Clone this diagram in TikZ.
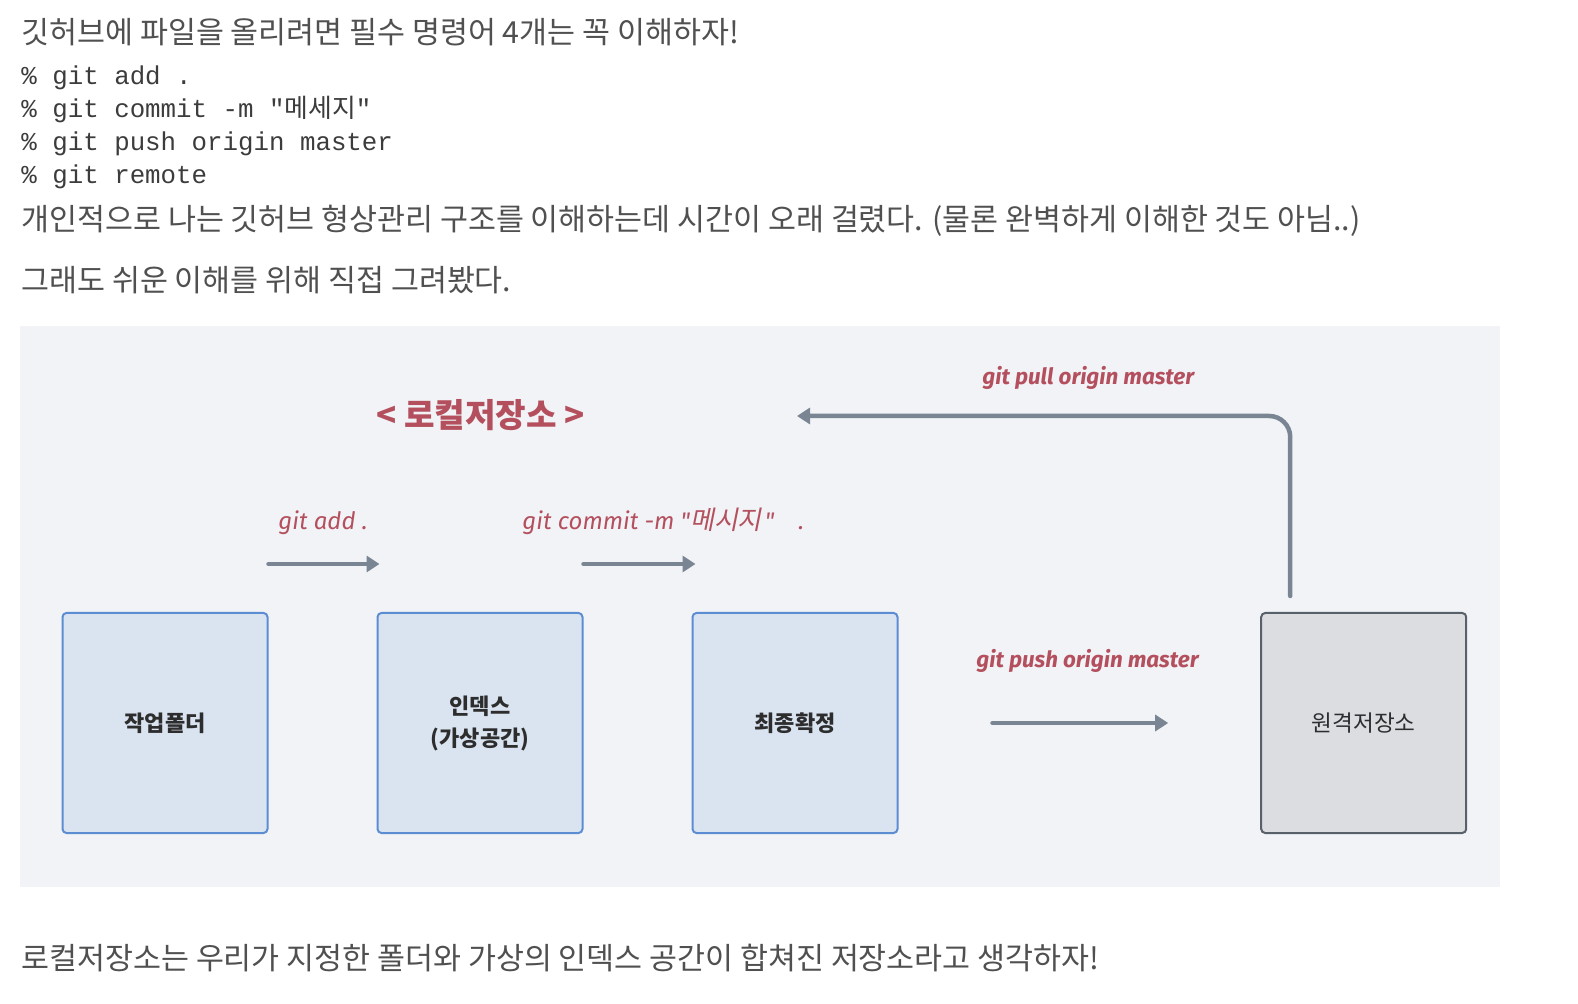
\documentclass[tikz,border=0pt]{standalone}
\usepackage{fontspec}
\usetikzlibrary{arrows.meta,calc,positioning}
\setmainfont{Noto Sans CJK KR}
\newfontfamily\codefont{Liberation Mono}
\newfontfamily\krfont{Noto Sans CJK KR}
\newfontfamily\krslant[FakeSlant=0.2]{Noto Sans CJK KR}
\newfontfamily\cmdfont{Fira Sans}
\definecolor{panel}{RGB}{241,243,247}
\definecolor{stagefill}{RGB}{218,228,241}
\definecolor{stageline}{RGB}{92,141,211}
\definecolor{remotefill}{RGB}{220,221,225}
\definecolor{remoteline}{RGB}{88,96,106}
\definecolor{flowgray}{RGB}{122,133,147}
\definecolor{cmdred}{RGB}{180,80,94}
\definecolor{paragray}{RGB}{80,80,80}
\definecolor{codegray}{RGB}{60,60,60}
\definecolor{boxtext}{RGB}{45,45,45}

\begin{document}
\begin{tikzpicture}[x=0.5pt,y=-0.5pt,>={Triangle[length=6.5pt,width=8pt]},node distance=54pt,
 stage/.style={draw=stageline,fill=stagefill,line width=1pt,rounded corners=2pt,minimum width=102.5pt,minimum height=110pt,align=center,text=boxtext,font=\bfseries\fontsize{11}{16}\selectfont},
 remote/.style={stage,draw=remoteline,fill=remotefill,font=\fontsize{11.3}{16}\selectfont},
 flow/.style={->,line width=2.25pt,draw=flowgray,line cap=round},
 cmd/.style={anchor=base west,inner sep=0pt,text=cmdred,font=\cmdfont\itshape\fontsize{12}{14}\selectfont},
 cmdbold/.style={cmd,font=\cmdfont\bfseries\itshape\fontsize{11.2}{14}\selectfont},
 para/.style={anchor=base west,inner sep=0pt,text=paragray,font=\fontsize{15.2}{18}\selectfont},
 code/.style={para,text=codegray,font=\codefont\fontsize{12.9}{15}\selectfont}]
\useasboundingbox (0,0) rectangle (1578,1004);
\fill[white] (0,0) rectangle (1578,1004);
% text above the figure
\node[para] (intro) at (21,44) {깃허브에 파일을 올리려면 필수 명령어 4개는 꼭 이해하자!};
\node[code] (cadd) at (21,85) {\% git add .};
\node[code] (ccommit) at (21,118) {\% git commit -m "{\krfont 메세지}"};
\node[code] (cpush) at (21,151) {\% git push origin master};
\node[code] (cremote) at (21,184) {\% git remote};
\node[para] (note) at (21,231) {개인적으로 나는 깃허브 형상관리 구조를 이해하는데 시간이 오래 걸렸다. (물론 완벽하게 이해한 것도 아님..)};
\node[para] (drawn) at (21,292) {그래도 쉬운 이해를 위해 직접 그려봤다.};

% the figure
\fill[panel] (20,326) rectangle (1500,887);
\node[stage] (work) at (165,723) {작업폴더};
\node[stage,right=of work] (index) {인덱스\\(가상공간)};
\node[stage,right=of index] (final) {최종확정};
\node[remote,right=180.85pt of final] (remote) {원격저장소};
\node[anchor=base west,inner sep=0pt,text=cmdred,font=\bfseries\fontsize{16.6}{19}\selectfont] (local) at (376,428) {< 로컬저장소 >};

\coordinate (addS) at ($(work.north east)+(0,-48)$);
\coordinate (addE) at ($(index.north west)+(3,-48)$);
\coordinate (comS) at ($(index.north east)+(0,-48)$);
\coordinate (comE) at ($(final.north west)+(4,-48)$);
\coordinate (pushS) at ($(final.east)+(94,0)$);
\coordinate (pushE) at ($(remote.west)+(-92,0)$);
\coordinate (pullS) at ($(remote.north west)+(30,-16)$);
\coordinate (pullE) at (797,416);
\draw[flow] (addS) -- (addE);
\draw[flow] (comS) -- (comE);
\draw[flow] (pushS) -- (pushE);
\draw[flow,rounded corners=10.5pt] (pullS) |- (pullE);

\node[cmd] (addlbl) at (278,530) {git add .};
\node[cmd] (comlbl) at (522,530) {git commit -m "{\krslant\fontsize{13}{14}\selectfont 메시지}\hspace{1.5pt}"\hspace{12pt}.};
\node[cmdbold] (pushlbl) at (976,668) {git push origin master};
\node[cmdbold] (pulllbl) at (982,385) {git pull origin master};

% text below the figure
\node[para] (sum) at (21,969) {로컬저장소는 우리가 지정한 폴더와 가상의 인덱스 공간이 합쳐진 저장소라고 생각하자!};
\end{tikzpicture}
\end{document}
